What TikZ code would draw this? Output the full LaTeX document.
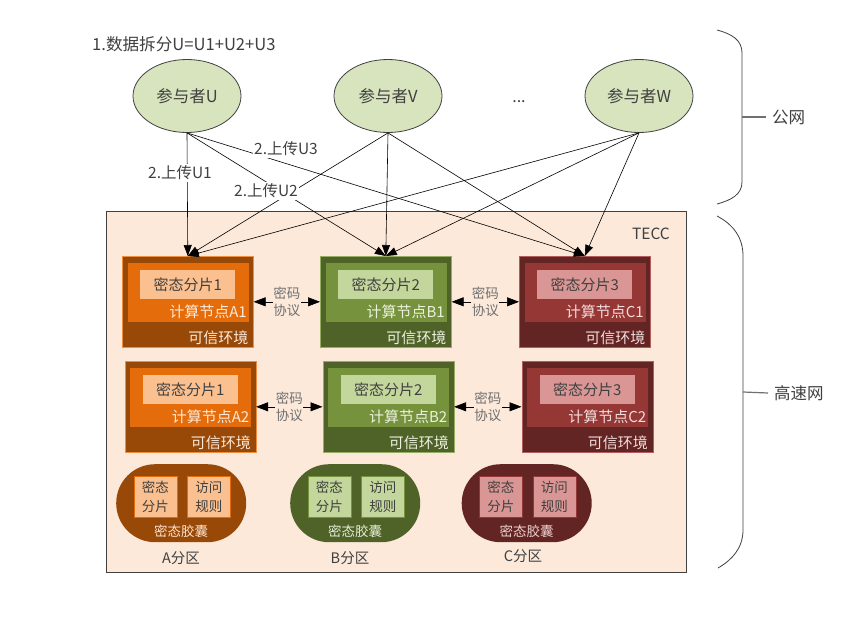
\documentclass[tikz,border=0pt]{standalone}
\usepackage{fontspec}
\setmainfont{Noto Sans CJK SC}
\usetikzlibrary{arrows.meta,calc,shapes.geometric}
\definecolor{txt}{HTML}{404040}
\definecolor{gtxt}{HTML}{707070}
\definecolor{tecc}{HTML}{FCE9DA}
\definecolor{ell}{HTML}{D7E4BD}
\definecolor{Ao}{HTML}{984807}
\definecolor{Ai}{HTML}{E46C0A}
\definecolor{Al}{HTML}{FAC090}
\definecolor{At}{HTML}{FDE9D9}
\definecolor{Bo}{HTML}{4F6228}
\definecolor{Bi}{HTML}{76923C}
\definecolor{Bl}{HTML}{C3D69B}
\definecolor{Bt}{HTML}{EBF1DE}
\definecolor{Co}{HTML}{632523}
\definecolor{Ci}{HTML}{953735}
\definecolor{Cl}{HTML}{D99694}
\definecolor{Ct}{HTML}{F2DCDB}
\newcommand\mkcompute[6]{%
  \node[obox, fill=#4o, draw=#4i!60!#4l, anchor=north west] (#1) at (#2,#3) {};
  \node[ibox, fill=#4i, anchor=north west] (#1in) at ($(#1.north west)+(5.5,7)$) {};
  \node[sbox, fill=#4l, anchor=north west] (#1sh) at ($(#1.north west)+(18,14)$) {密态分片#5};
  \node[ltext, text=#4t, anchor=east] (#1lb) at ($(#1in.south east)+(-1,-11)$) {计算节点#6};
  \node[ltext, text=#4t, anchor=east] (#1te) at ($(#1.south east)+(-4,-10)$) {可信环境};
}
\newcommand\mkcapsule[4]{%
  \node[capbox, fill=#4o, anchor=north west] (#1) at (#2,#3) {};
  \node[cbox, fill=#4l, draw=#4i, anchor=north west] (#1s) at ($(#1.north west)+(17.5,12)$) {密态\\分片};
  \node[cbox, fill=#4l, draw=#4i, anchor=north west] (#1r) at ($(#1.north west)+(71,12)$) {访问\\规则};
  \node[ctext, text=#4t!85!#4l] (#1lb) at ($(#1.north)+(0,67)$) {密态胶囊};
}
\begin{document}
\begin{tikzpicture}[x=1pt,y=-1pt,
  every node/.style={text=txt, inner sep=1pt},
  part/.style={ellipse, draw=txt, line width=0.8pt, fill=ell, minimum width=108pt, minimum height=73pt, font=\fontsize{16.5}{19}\selectfont},
  up/.style={draw=black, line width=0.6pt, -{Triangle[length=11pt,width=8pt]}},
  uplabel/.style={fill=white, font=\fontsize{15.5}{18}\selectfont, inner sep=1.5pt},
  obox/.style={line width=0.6pt, minimum width=131pt, minimum height=91pt, inner sep=0pt},
  ibox/.style={minimum width=121pt, minimum height=59pt, inner sep=0pt},
  sbox/.style={minimum width=95pt, minimum height=29pt, inner sep=0pt, font=\fontsize{15}{17}\selectfont},
  ltext/.style={font=\fontsize{15}{17}\selectfont},
  capbox/.style={rounded corners=38.9pt, minimum width=130pt, minimum height=78pt, inner sep=0pt},
  cbox/.style={line width=0.5pt, minimum width=43pt, minimum height=41pt, inner sep=0pt, align=center, font=\fontsize{13.5}{19}\selectfont},
  ctext/.style={font=\fontsize{13.5}{16}\selectfont},
  dbl/.style={draw=black, line width=0.6pt, {Triangle[length=12pt,width=9pt]}-{Triangle[length=12pt,width=9pt]}},
  crypt/.style={fill=tecc, text=gtxt, align=center, inner sep=0.5pt, font=\fontsize{13.5}{17}\selectfont},
  brace/.style={draw=txt, line width=0.8pt},
  tick/.style={draw=gtxt, line width=1.2pt},
  side/.style={font=\fontsize{16.5}{19}\selectfont, text=txt},
  zone/.style={font=\fontsize{14.5}{17}\selectfont}
]
\useasboundingbox (0,0) rectangle (849,619);
\fill[white] (0,0) rectangle (849,619);

% TECC region
\node[draw=txt, fill=tecc, line width=0.8pt, minimum width=580pt, minimum height=361pt, anchor=north west, inner sep=0pt] (tecc) at (106,211) {};
\node[font=\fontsize{15.5}{18}\selectfont] (teccl) at (651,234) {TECC};

% title and participants
\node[anchor=west, font=\fontsize{16.6}{19}\selectfont] (title) at (91,44) {1.数据拆分U=U1+U2+U3};
\node[part] (U) at (187,96) {参与者U};
\node[part] (V) at (388,96) {参与者V};
\node[part] (W) at (639,96) {参与者W};
\node[anchor=base, font=\fontsize{16}{19}\selectfont] (dots) at (519,102) {...};

% compute nodes
\mkcompute{A1}{122}{256}{A}{1}{A1}
\mkcompute{B1}{320}{256}{B}{2}{B1}
\mkcompute{C1}{519}{256}{C}{3}{C1}
\mkcompute{A2}{124.5}{361}{A}{1}{A2}
\mkcompute{B2}{322.5}{361}{B}{2}{B2}
\mkcompute{C2}{521.5}{361}{C}{3}{C2}

% uploads
\foreach \p in {U,V,W}{
  \foreach \t in {A1,B1,C1}{
    \draw[up] (\p.south) -- (\t.north);
  }
}
\node[uplabel] (l1) at (180,173) {2.上传U1};
\node[uplabel] (l2) at (266,191) {2.上传U2};
\node[uplabel] (l3) at (286,149) {2.上传U3};

% crypto protocols
\draw[dbl] (A1.east) -- node[crypt] (p1) {密码\\协议} (B1.west);
\draw[dbl] (B1.east) -- node[crypt] (p2) {密码\\协议} (C1.west);
\draw[dbl] (A2.east) -- node[crypt] (p3) {密码\\协议} (B2.west);
\draw[dbl] (B2.east) -- node[crypt] (p4) {密码\\协议} (C2.west);

% capsules
\mkcapsule{capA}{116}{464}{A}
\mkcapsule{capB}{290}{464}{B}
\mkcapsule{capC}{461.5}{464}{C}
\node[zone] (zA) at (181,558) {A分区};
\node[zone] (zB) at (350,558) {B分区};
\node[zone] (zC) at (523,556) {C分区};

% braces
\draw[brace] (717,30) .. controls (732,34) and (742,40) .. (742,53) -- (742,182) .. controls (742,194) and (732,200) .. (717,204);
\coordinate (pubt) at (742,117);
\node[side, anchor=west] (pub) at (771,117) {公网};
\draw[tick] (pubt) -- ($(pub.west)+(-5,0)$);

\draw[brace] (717,216) .. controls (734,225) and (743,238) .. (743,256) -- (743,530) .. controls (743,548) and (732,560) .. (718,568);
\coordinate (fastt) at (743,392);
\node[side, anchor=west] (fast) at (773,393) {高速网};
\draw[tick] (fastt) -- ($(fast.west)+(-5,0)$);
\end{tikzpicture}
\end{document}
